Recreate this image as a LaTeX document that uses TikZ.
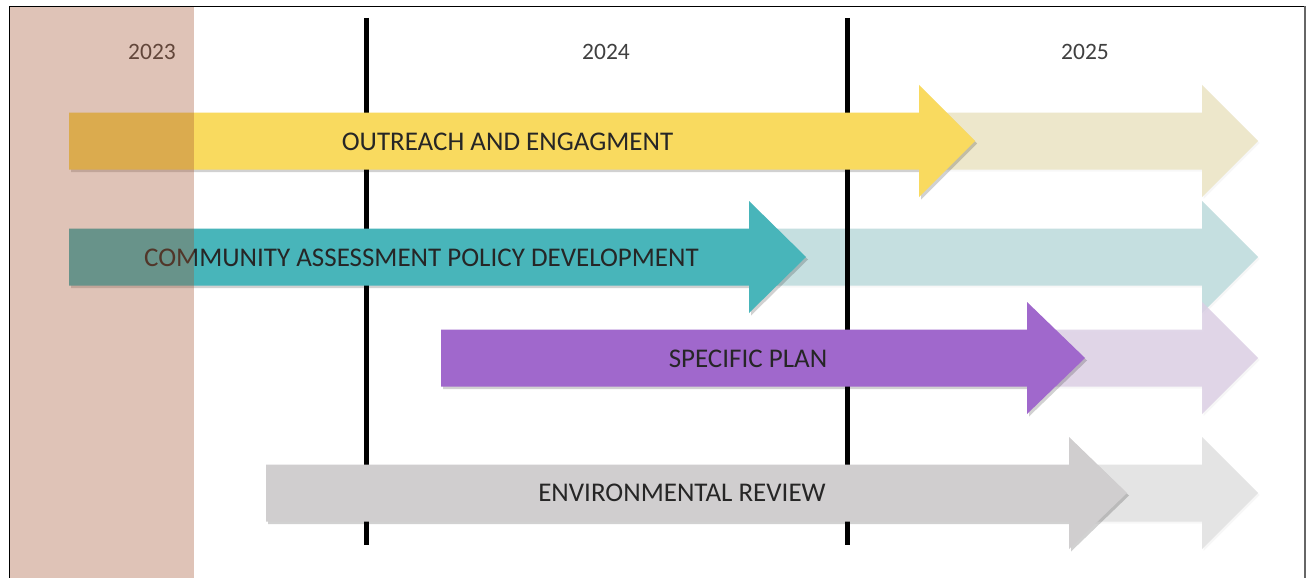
\documentclass[tikz,border=0pt]{standalone}
\usepackage{fontspec}
\setmainfont{Carlito}
\definecolor{yel}{HTML}{F9DA5F}
\definecolor{yelf}{HTML}{EDE7CB}
\definecolor{teal2}{HTML}{48B5BA}
\definecolor{tealf}{HTML}{C5DFE0}
\definecolor{purp}{HTML}{A068CC}
\definecolor{purpf}{HTML}{DCD0E5}
\definecolor{gry}{HTML}{D0CECF}
\definecolor{gryf}{HTML}{E4E4E4}
\definecolor{yeartxt}{HTML}{404040}
\definecolor{labeltxt}{HTML}{262626}
\definecolor{brownov}{HTML}{A45431}
% #1 start x, #2 head base x, #3 tip x, #4 centre y
\newcommand{\tlarrowpath}[4]{(#1,#4-28.5) -- (#2,#4-28.5) -- (#2,#4-56) -- (#3,#4) -- (#2,#4+56) -- (#2,#4+28.5) -- (#1,#4+28.5) -- cycle}
\newcommand{\tlarrow}[5]{%
  \fill[black,opacity=0.18,shift={(2,2.5)}] \tlarrowpath{#2}{#3}{#4}{#5};
  \fill[#1] \tlarrowpath{#2}{#3}{#4}{#5};}
\newcommand{\tlfaint}[5]{%
  \fill[black,opacity=0.03,shift={(1.5,2)}] \tlarrowpath{#2}{#3}{#4}{#5};
  \fill[#1] \tlarrowpath{#2}{#3}{#4}{#5};}
\tikzset{
  yearlabel/.style={text=yeartxt,font=\fontsize{23.5}{26}\selectfont,inner sep=0pt},
  barlabel/.style={text=labeltxt,font=\fontsize{27}{30}\selectfont,inner sep=0pt},
  yearline/.style={line width=5pt,black},
  framelines/.style={line width=1pt,black}
}
\begin{document}
\begin{tikzpicture}[x=1pt,y=-1pt]
\useasboundingbox (0,0) rectangle (1312,578);
\fill[white] (0,0) rectangle (1312,578);
% faint extensions
\tlfaint{yelf}{919}{1202}{1258}{141}
\tlfaint{tealf}{749}{1202}{1258}{257}
\begin{scope}[opacity=0.85]
\tlfaint{purpf}{1027}{1202}{1258}{358}
\end{scope}
\tlfaint{gryf}{1069}{1202}{1258}{493}
% year divider lines
\coordinate (l1t) at (366.5,18);
\coordinate (l1b) at (366.5,545);
\coordinate (l2t) at (847,18);
\coordinate (l2b) at (847,545);
\draw[yearline] (l1t) -- (l1b);
\draw[yearline] (l2t) -- (l2b);
% main arrows
\tlarrow{yel}{69}{919}{975}{141}
\tlarrow{teal2}{69}{749}{806}{257}
\tlarrow{purp}{441}{1027}{1085}{358}
\tlarrow{gry}{266}{1069}{1127}{493}
% labels
\node[barlabel] (t1) at (507.5,142) {OUTREACH AND ENGAGMENT};
\node[barlabel] (t2) at (421.5,258) {COMMUNITY ASSESSMENT POLICY DEVELOPMENT};
\node[barlabel] (t3) at (748,359) {SPECIFIC PLAN};
\node[barlabel] (t4) at (682,493) {ENVIRONMENTAL REVIEW};
\node[yearlabel] (y1) at (152,52) {2023};
\node[yearlabel] (y2) at (606,52) {2024};
\node[yearlabel] (y3) at (1085,52) {2025};
% 2023 overlay
\fill[brownov,opacity=0.35] (10,7) rectangle (194,578);
% frame
\draw[framelines] (9.5,578) -- (9.5,6.5) -- (1305,6.5);
\draw[line width=2pt,black!60] (1305,6.5) -- (1305,578);
\end{tikzpicture}
\end{document}
